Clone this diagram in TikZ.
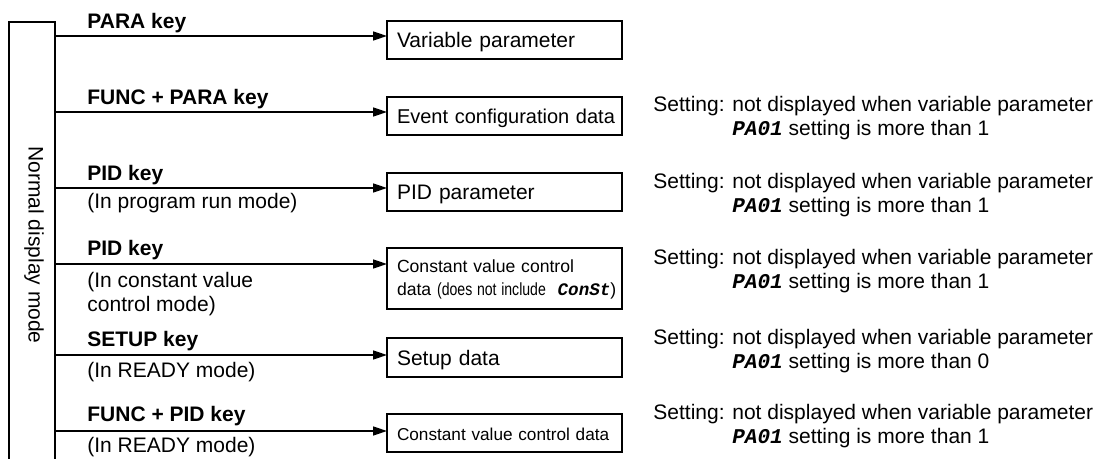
\documentclass[tikz,border=0pt]{standalone}
\usepackage{fontspec}
\setmainfont{Liberation Sans}
\newfontfamily\keymono{Liberation Mono}
\usetikzlibrary{arrows.meta,calc,positioning}
\newcommand{\paone}{{\keymono\bfseries\itshape PA01}}
\newcommand{\cnst}{{\keymono\bfseries\itshape ConSt}}
\tikzset{
  box/.style={draw, line width=0.7pt, anchor=north west, outer sep=0pt,
    minimum width=117.5pt, minimum height=19pt, inner xsep=5pt,
    text width=107.5pt, align=left, font=\fontsize{10.5}{12}\selectfont},
  oneline/.style={text height=7.6pt, text depth=0pt},
  keylbl/.style={anchor=base west, inner sep=0pt,
    font=\fontsize{10.5}{12}\selectfont\bfseries},
  sublbl/.style={anchor=base west, inner sep=0pt, align=left,
    font=\fontsize{10.5}{12}\selectfont},
  note/.style={anchor=base west, inner sep=0pt, align=left,
    font=\fontsize{10.5}{12}\selectfont},
  arr/.style={line width=0.8pt, -{Triangle[length=7pt,width=4.5pt]}},
}
\begin{document}
\begin{tikzpicture}[x=0.5pt,y=-0.5pt]
  \useasboundingbox (0,0) rectangle (1100,459);

  %% ── normal display mode bar ──────────────────────
  \begin{scope}
    \clip (0,0) rectangle (1100,459);
    \node[draw, line width=0.7pt, outer sep=0pt,
          minimum width=23pt, minimum height=223pt] (mode) at (32,245) {};
    \node[rotate=-90, font=\fontsize{10.5}{12}\selectfont]
      (modetxt) at (34,245) {Normal display mode};
  \end{scope}

  %% ── target boxes ─────────────────────────────────
  \node[box, oneline] (varpar) at (387,21)  {Variable parameter};
  \node[box, oneline, font=\fontsize{10}{12}\selectfont]
    (evtcfg) at (387,97)  {\mbox{Event configuration data}};
  \node[box, oneline] (pidpar) at (387,173) {PID parameter};
  \node[box, minimum height=30.5pt, text depth=12pt,
        font=\fontsize{8.8}{11.5}\selectfont] (cvdata) at (387,248)
    {Constant value control\\
     \mbox{data \scalebox{0.8}[1]{\fontsize{8.8}{9}\selectfont(does not include}\ \ \cnst)}};
  \node[box, oneline, minimum height=19.5pt] (setup) at (387,338) {Setup data};
  \node[box, oneline,
        font=\fontsize{8.6}{10}\selectfont] (cvctrl) at (387,414)
    {Constant value control data};

  %% ── key labels ───────────────────────────────────
  \node[keylbl] (k1) at (87,29)  {PARA key};
  \node[keylbl] (k2) at (87,105) {FUNC + PARA key};
  \node[keylbl] (k3) at (87,181) {PID key};
  \node[sublbl] (s3) at (87,209) {(In program run mode)};
  \node[keylbl] (k4) at (87,256) {PID key};
  \node[sublbl] (s4) at (87,312) {(In constant value\\control mode)};
  \node[keylbl] (k5) at (87,347) {SETUP key};
  \node[sublbl] (s5) at (87,378) {(In READY mode)};
  \node[keylbl] (k6) at (87,422) {FUNC + PID key};
  \node[sublbl] (s6) at (87,453) {(In READY mode)};

  %% ── arrows into the boxes ────────────────────────
  \foreach \b/\d in {varpar/15,evtcfg/15,pidpar/15,cvdata/16,setup/17,cvctrl/17}{
    \path (\b.north west) ++(0,\d) coordinate (\b-in);
    \draw[arr] (mode.east |- \b-in) -- (\b-in);
  }

  %% ── setting notes (anchored on the second line) ──
  \foreach \y/\v [count=\i from 2] in {136/1,213/1,289/1,369/0,444/1}{
    \node[note] (note\i) at (653,\y)
      {Setting: not displayed when variable parameter\\
       \hphantom{Setting: }\paone{} setting is more than \v};
  }

\end{tikzpicture}
\end{document}
